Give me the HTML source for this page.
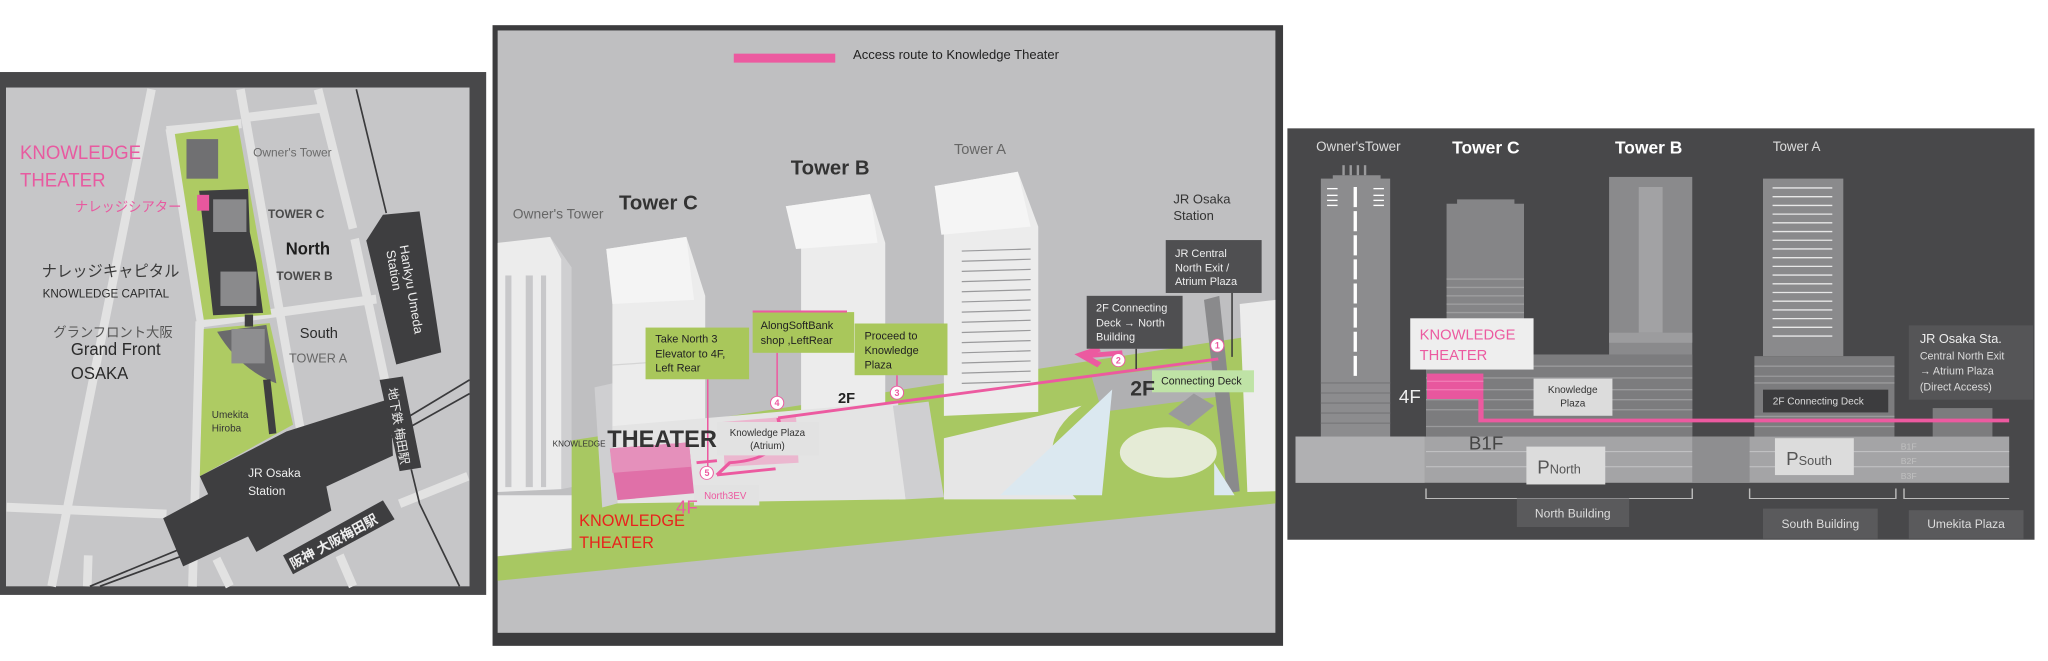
<!DOCTYPE html>
<html><head><meta charset="utf-8"><style>
html,body{margin:0;padding:0;background:#fff;width:2048px;height:661px;overflow:hidden}
svg{display:block}
text{font-family:"Liberation Sans","Noto Sans CJK JP",sans-serif}
</style></head><body>
<svg width="2048" height="661" viewBox="0 0 2048 661" xmlns="http://www.w3.org/2000/svg">
<!-- LEFT PANEL -->
<g transform="translate(0,60) scale(0.333,0.344)">
<rect x="0" y="35" width="1460" height="1520" fill="#48484a"/>
<rect x="18" y="80" width="1392" height="1450" fill="#c6c6c8"/>
<g stroke="#e2e2e2" stroke-width="26" fill="none">
<line x1="455" y1="85" x2="155" y2="1530"/>
<line x1="600" y1="760" x2="578" y2="1530"/>
<line x1="510" y1="200" x2="605" y2="770"/>
<line x1="722" y1="85" x2="905" y2="1090"/>
<line x1="500" y1="205" x2="725" y2="185"/>
<line x1="730" y1="168" x2="965" y2="140"/>
<line x1="955" y1="85" x2="1060" y2="490"/>
<line x1="1065" y1="520" x2="1160" y2="950"/>
<line x1="600" y1="765" x2="1130" y2="695"/>
<line x1="262" y1="1530" x2="265" y2="1440"/>
<line x1="650" y1="1450" x2="690" y2="1530"/>
<line x1="1020" y1="1440" x2="1060" y2="1530"/>
<line x1="1200" y1="1290" x2="1405" y2="1210"/>
<line x1="20" y1="1300" x2="500" y2="1320"/>
</g>
<g stroke="#3a3a3c" stroke-width="5" fill="none">
<line x1="270" y1="1530" x2="570" y2="1410"/>
<line x1="300" y1="1530" x2="580" y2="1430"/>
<line x1="1170" y1="1070" x2="1410" y2="930"/>
<line x1="1170" y1="1100" x2="1410" y2="970"/>
<line x1="1070" y1="85" x2="1160" y2="445"/>
<polyline points="1235,1190 1260,1290 1380,1530"/>
</g>
<polygon points="525,215 715,190 815,740 612,755" fill="#aecb63"/>
<polygon points="612,782 810,765 880,1060 600,1210" fill="#aecb63"/>
<rect x="560" y="230" width="95" height="115" fill="#707072"/>
<polygon points="598,380 745,375 750,500 770,590 790,735 640,742" fill="#3e3e40"/>
<rect x="640" y="405" width="100" height="95" fill="#8a8a8c"/>
<rect x="662" y="615" width="108" height="100" fill="#8a8a8c"/>
<rect x="592" y="392" width="36" height="46" fill="#e8579e"/>
<rect x="735" y="740" width="25" height="35" fill="#3e3e40"/>
<path d="M652,790 L800,770 L830,940 Q720,900 652,790 Z" fill="#6a6a6c"/>
<rect x="695" y="782" width="100" height="100" fill="#8e8e90"/>
<polygon points="790,930 812,928 830,1085 808,1088" fill="#3e3e40"/>
<polygon points="600,1210 860,1080 1170,985 1180,1150 980,1240 995,1310 770,1430 745,1385 550,1472 490,1332 625,1262" fill="#3e3e40"/>
<polygon points="1100,525 1150,450 1260,440 1325,850 1190,885" fill="#3e3e40"/>
<polygon points="1140,930 1210,920 1265,1185 1200,1195" fill="#3e3e40"/>
<polygon points="850,1440 1150,1280 1185,1335 880,1495" fill="#3e3e40"/>
<text x="60" y="288" font-size="56" fill="#e85aa0">KNOWLEDGE</text>
<text x="60" y="368" font-size="56" fill="#e85aa0">THEATER</text>
<text x="225" y="440" font-size="40" fill="#e85aa0">ナレッジシアター</text>
<text x="760" y="280" font-size="36" fill="#6a6a6a">Owner's Tower</text>
<text x="805" y="460" font-size="36" fill="#4a4a4a" font-weight="bold">TOWER C</text>
<text x="858" y="566" font-size="50" fill="#1e1e1e" font-weight="bold">North</text>
<text x="830" y="640" font-size="36" fill="#4a4a4a" font-weight="bold">TOWER B</text>
<text x="125" y="630" font-size="46" fill="#3a3a3a">ナレッジキャピタル</text>
<text x="128" y="690" font-size="35" fill="#2a2a2a">KNOWLEDGE CAPITAL</text>
<text x="160" y="805" font-size="40" fill="#555">グランフロント大阪</text>
<text x="213" y="858" font-size="50" fill="#2a2a2a">Grand Front</text>
<text x="213" y="928" font-size="50" fill="#2a2a2a">OSAKA</text>
<text x="900" y="808" font-size="44" fill="#2a2a2a">South</text>
<text x="868" y="880" font-size="38" fill="#666">TOWER A</text>
<text x="636" y="1040" font-size="30" fill="#333">Umekita</text>
<text x="636" y="1080" font-size="30" fill="#333">Hiroba</text>
<text x="745" y="1212" font-size="36" fill="#eee">JR Osaka</text>
<text x="745" y="1265" font-size="36" fill="#eee">Station</text>
<text transform="translate(1200,540) rotate(80)" font-size="38" fill="#eee">Hankyu Umeda</text>
<text transform="translate(1160,555) rotate(80)" font-size="38" fill="#eee">Station</text>
<text transform="translate(1165,955) rotate(80)" font-size="36" fill="#eee">地下鉄 梅田駅</text>
<text transform="translate(880,1480) rotate(-28)" font-size="40" fill="#eee" font-weight="bold">阪神 大阪梅田駅</text>
</g>

<!-- MIDDLE PANEL shapes -->
<g transform="translate(490,15) scale(0.51,0.407)">
<rect x="5" y="25" width="1550" height="1525" fill="#3c3c3e"/>
<rect x="15" y="38" width="1525" height="1480" fill="#bfbfc1"/>
<polygon points="160,1045 1540,780 1540,1200 160,1320" fill="#a8c862"/>
<polygon points="15,1330 1540,1170 1540,1200 15,1390" fill="#a8c862"/>
<polygon points="15,1330 160,1310 160,1180 15,1180" fill="#ececec"/>
<polygon points="15,560 118,545 140,600 140,1165 15,1172" fill="#ececec"/>
<polygon points="118,545 140,600 140,1165 160,1160 160,620" fill="#cfcfd1"/>
<g fill="#c8c8ca"><rect x="70" y="640" width="14" height="520"/><rect x="100" y="640" width="10" height="520"/><rect x="30" y="640" width="12" height="520"/></g>
<polygon points="205,915 240,905 250,1200 220,1210" fill="#cfcfd1"/>
<polygon points="228,575 385,545 422,690 422,1050 240,1050 240,700" fill="#ececec"/>
<polygon points="228,575 385,545 400,700 240,710" fill="#f4f4f4"/>
<line x1="240" y1="860" x2="420" y2="845" stroke="#d5d5d5" stroke-width="3"/>
<polygon points="580,470 745,440 775,560 775,1005 610,1015 610,570" fill="#ececec"/>
<polygon points="580,470 745,440 760,560 600,575" fill="#f5f5f5"/>
<polygon points="240,1010 800,950 815,1190 250,1200" fill="#e4e4e4"/>
<polygon points="790,960 860,950 890,1185 815,1190" fill="#cfcfd1"/>
<polygon points="872,420 1035,385 1075,520 1075,975 890,985 890,540" fill="#ececec"/>
<polygon points="872,420 1035,385 1060,520 885,540" fill="#f5f5f5"/>
<g stroke="#9a9a9c" stroke-width="3">
<line x1="925" y1="580" x2="1060" y2="575"/><line x1="925" y1="605" x2="1060" y2="600"/><line x1="925" y1="630" x2="1060" y2="625"/><line x1="925" y1="655" x2="1060" y2="650"/><line x1="925" y1="680" x2="1060" y2="675"/><line x1="925" y1="705" x2="1060" y2="700"/><line x1="925" y1="730" x2="1060" y2="725"/><line x1="925" y1="755" x2="1060" y2="750"/><line x1="925" y1="780" x2="1060" y2="775"/><line x1="925" y1="805" x2="1060" y2="800"/><line x1="925" y1="830" x2="1060" y2="825"/><line x1="925" y1="855" x2="1060" y2="850"/><line x1="925" y1="880" x2="1060" y2="875"/><line x1="925" y1="905" x2="1060" y2="900"/>
</g>
<path d="M890,1040 L1160,960 Q1050,1060 1150,1190 L890,1190 Z" fill="#e6e6e6"/>
<polygon points="1180,890 1440,850 1445,935 1200,975" fill="#b0b0b2"/>
<polygon points="1400,700 1430,690 1470,1170 1445,1175" fill="#8a8a8c"/>
<polygon points="1470,710 1540,700 1540,1170 1485,1172" fill="#ececec"/>
<polygon points="1220,920 1000,1180 1200,1180" fill="#dbe8f0"/>
<polygon points="1420,1100 1460,1180 1420,1180" fill="#dbe8f0"/>
<ellipse cx="1330" cy="1075" rx="95" ry="62" fill="#e5ebd6"/>
<polygon points="1330,980 1380,930 1420,960 1370,1010" fill="#9a9a9c"/>
<polygon points="455,1000 600,985 605,1100 460,1110" fill="#ebb7cf"/>
<polygon points="235,1065 390,1050 400,1175 250,1192" fill="#e070a8"/>
<polygon points="235,1065 390,1050 395,1110 240,1125" fill="#e590bb"/>
<g stroke="#ec5aa0" stroke-width="7" fill="none">
<line x1="1428" y1="845" x2="565" y2="990"/>
<path d="M565,990 Q585,1090 470,1100 L445,1130"/>
<line x1="445" y1="1130" x2="560" y2="1115"/>
<line x1="405" y1="1100" x2="445" y2="1095"/>
</g>
<path d="M1195,820 L1160,835 L1195,860" stroke="#ec5aa0" stroke-width="14" fill="none"/>
<line x1="1160" y1="838" x2="1240" y2="830" stroke="#ec5aa0" stroke-width="12"/>
<g stroke="#ec5aa0" stroke-width="3"><line x1="427" y1="895" x2="427" y2="1110"/><line x1="563" y1="830" x2="563" y2="950"/><line x1="798" y1="885" x2="798" y2="915"/></g>
<g stroke="#3a3a3a" stroke-width="3"><line x1="1267" y1="820" x2="1267" y2="870"/><line x1="1455" y1="683" x2="1455" y2="840"/></g>
<rect x="478" y="95" width="199" height="22" fill="#ec5aa0"/>
<rect x="305" y="768" width="203" height="127" fill="#a9c75b"/>
<rect x="515" y="730" width="199" height="100" fill="#a9c75b"/>
<rect x="515" y="726" width="185" height="5" fill="#ec5aa0"/>
<rect x="715" y="758" width="182" height="127" fill="#a9c75b"/>
<rect x="1325" y="553" width="188" height="130" fill="#4f4f51"/>
<rect x="1170" y="690" width="188" height="130" fill="#4f4f51"/>
<rect x="1298" y="873" width="200" height="54" fill="#bfe3a6"/>
<rect x="445" y="1000" width="200" height="82" fill="#e2e2e2"/>
<rect x="400" y="1155" width="128" height="50" fill="#e2e2e2"/>
<g fill="#fff" stroke="#ec5aa0" stroke-width="2">
<ellipse cx="1426" cy="812" rx="13" ry="16"/><ellipse cx="1232" cy="848" rx="13" ry="16"/><ellipse cx="798" cy="928" rx="13" ry="16"/><ellipse cx="563" cy="953" rx="13" ry="16"/><ellipse cx="425" cy="1125" rx="13" ry="16"/></g>
</g>
<!-- MIDDLE PANEL text (uniform scale) -->
<g transform="translate(490,15) scale(0.407)">
<text x="892" y="108" font-size="32" fill="#222">Access route to Knowledge Theater</text>
<text x="406" y="805" font-size="27" fill="#222">Take North 3</text>
<text x="406" y="842" font-size="27" fill="#222">Elevator to 4F,</text>
<text x="406" y="876" font-size="27" fill="#222">Left Rear</text>
<text x="665" y="772" font-size="27" fill="#222">AlongSoftBank</text>
<text x="665" y="808" font-size="27" fill="#222">shop ,LeftRear</text>
<text x="920" y="797" font-size="27" fill="#222">Proceed to</text>
<text x="920" y="833" font-size="27" fill="#222">Knowledge</text>
<text x="920" y="868" font-size="27" fill="#222">Plaza</text>
<text x="1683" y="594" font-size="27" fill="#eee">JR Central</text>
<text x="1683" y="630" font-size="27" fill="#eee">North Exit /</text>
<text x="1683" y="664" font-size="27" fill="#eee">Atrium Plaza</text>
<text x="1489" y="729" font-size="27" fill="#eee">2F Connecting</text>
<text x="1489" y="765" font-size="27" fill="#eee">Deck → North</text>
<text x="1489" y="800" font-size="27" fill="#eee">Building</text>
<text x="1649" y="908" font-size="26" fill="#222">Connecting Deck</text>
<text x="589" y="1035" font-size="24" fill="#333">Knowledge Plaza</text>
<text x="639" y="1066" font-size="24" fill="#333">(Atrium)</text>
<text x="526" y="1189" font-size="24" fill="#ec5aa0">North3EV</text>
<g fill="#ec5aa0" font-size="22" font-weight="bold" text-anchor="middle">
<text x="1787" y="820">1</text><text x="1544" y="856">2</text><text x="1000" y="936">3</text><text x="705" y="961">4</text><text x="533" y="1133">5</text></g>
<text x="56" y="500" font-size="34" fill="#666">Owner's Tower</text>
<text x="317" y="478" font-size="50" fill="#333" font-weight="bold">Tower C</text>
<text x="739" y="392" font-size="50" fill="#333" font-weight="bold">Tower B</text>
<text x="1140" y="342" font-size="36" fill="#666">Tower A</text>
<text x="1679" y="463" font-size="32" fill="#333">JR Osaka</text>
<text x="1679" y="504" font-size="32" fill="#333">Station</text>
<text x="855" y="953" font-size="36" fill="#222" font-weight="bold">2F</text>
<text x="1573" y="935" font-size="52" fill="#333" font-weight="bold">2F</text>
<text x="154" y="1060" font-size="20" fill="#333">KNOWLEDGE</text>
<text x="288" y="1062" font-size="58" fill="#333" font-weight="bold">THEATER</text>
<text x="457" y="1225" font-size="46" fill="#ec5aa0">4F</text>
<text x="219" y="1255" font-size="40" fill="#e8231c">KNOWLEDGE</text>
<text x="219" y="1310" font-size="40" fill="#e8231c">THEATER</text>
</g>

<!-- RIGHT PANEL shapes -->
<g transform="translate(1285,125) scale(0.478,0.335)">
<rect x="5" y="10" width="1563" height="1228" fill="#48484a"/>
<rect x="75" y="160" width="145" height="770" fill="#8c8c8e"/>
<rect x="100" y="150" width="100" height="15" fill="#8c8c8e"/>
<g fill="#9a9a9c"><rect x="120" y="120" width="5" height="30"/><rect x="135" y="120" width="5" height="30"/><rect x="150" y="120" width="5" height="30"/><rect x="165" y="120" width="5" height="30"/></g>
<line x1="147" y1="185" x2="147" y2="750" stroke="#fff" stroke-width="7" stroke-dasharray="60,12"/>
<g stroke="#fff" stroke-width="4"><line x1="88" y1="190" x2="110" y2="190"/><line x1="88" y1="210" x2="110" y2="210"/><line x1="88" y1="225" x2="110" y2="225"/><line x1="88" y1="240" x2="110" y2="240"/><line x1="185" y1="190" x2="207" y2="190"/><line x1="185" y1="210" x2="207" y2="210"/><line x1="185" y1="225" x2="207" y2="225"/><line x1="185" y1="240" x2="207" y2="240"/></g>
<g stroke="#7a7a7c" stroke-width="4"><line x1="75" y1="770" x2="220" y2="770"/><line x1="75" y1="800" x2="220" y2="800"/><line x1="75" y1="830" x2="220" y2="830"/><line x1="75" y1="860" x2="220" y2="860"/><line x1="75" y1="890" x2="220" y2="890"/></g>
<rect x="338" y="235" width="162" height="695" fill="#858587"/>
<rect x="360" y="222" width="120" height="15" fill="#858587"/>
<g stroke="#9e9e9f" stroke-width="4"><line x1="338" y1="460" x2="500" y2="460"/><line x1="338" y1="485" x2="500" y2="485"/><line x1="338" y1="510" x2="500" y2="510"/><line x1="338" y1="535" x2="500" y2="535"/><line x1="338" y1="560" x2="500" y2="560"/></g>
<rect x="678" y="155" width="174" height="775" fill="#8a8a8c"/>
<rect x="740" y="185" width="50" height="435" fill="#a2a2a4"/>
<rect x="678" y="620" width="174" height="30" fill="#9c9c9e"/>
<rect x="295" y="685" width="557" height="245" fill="#7c7c7e"/>
<g stroke="#9a9a9c" stroke-width="4">
<line x1="295" y1="720" x2="852" y2="720"/><line x1="295" y1="755" x2="852" y2="755"/><line x1="295" y1="790" x2="852" y2="790"/><line x1="295" y1="820" x2="852" y2="820"/><line x1="295" y1="850" x2="852" y2="850"/><line x1="295" y1="900" x2="852" y2="900"/></g>
<rect x="1000" y="160" width="168" height="530" fill="#8a8a8c"/>
<g stroke="#e8e8e8" stroke-width="4">
<line x1="1020" y1="188" x2="1145" y2="188"/><line x1="1020" y1="214" x2="1145" y2="214"/><line x1="1020" y1="240" x2="1145" y2="240"/><line x1="1020" y1="266" x2="1145" y2="266"/><line x1="1020" y1="292" x2="1145" y2="292"/><line x1="1020" y1="318" x2="1145" y2="318"/><line x1="1020" y1="344" x2="1145" y2="344"/><line x1="1020" y1="370" x2="1145" y2="370"/><line x1="1020" y1="396" x2="1145" y2="396"/><line x1="1020" y1="422" x2="1145" y2="422"/><line x1="1020" y1="448" x2="1145" y2="448"/><line x1="1020" y1="474" x2="1145" y2="474"/><line x1="1020" y1="500" x2="1145" y2="500"/><line x1="1020" y1="526" x2="1145" y2="526"/><line x1="1020" y1="552" x2="1145" y2="552"/><line x1="1020" y1="578" x2="1145" y2="578"/><line x1="1020" y1="604" x2="1145" y2="604"/><line x1="1020" y1="630" x2="1145" y2="630"/></g>
<rect x="982" y="690" width="293" height="240" fill="#7c7c7e"/>
<g stroke="#9a9a9c" stroke-width="4"><line x1="982" y1="720" x2="1275" y2="720"/><line x1="982" y1="750" x2="1275" y2="750"/><line x1="982" y1="770" x2="1275" y2="770"/><line x1="982" y1="870" x2="1275" y2="870"/><line x1="982" y1="900" x2="1275" y2="900"/></g>
<rect x="1355" y="845" width="125" height="85" fill="#7c7c7e"/>
<rect x="22" y="930" width="1493" height="138" fill="#a4a4a6"/>
<rect x="22" y="930" width="270" height="138" fill="#b0b0b2"/>
<rect x="852" y="930" width="120" height="138" fill="#8e8e90"/>
<g stroke="#c4c4c6" stroke-width="3"><line x1="295" y1="975" x2="852" y2="975"/><line x1="295" y1="1020" x2="852" y2="1020"/><line x1="972" y1="975" x2="1515" y2="975"/><line x1="972" y1="1020" x2="1515" y2="1020"/></g>
<rect x="297" y="742" width="118" height="76" fill="#e8579e"/>
<g stroke="#f07ab4" stroke-width="4"><line x1="297" y1="765" x2="415" y2="765"/><line x1="297" y1="790" x2="415" y2="790"/></g>
<polyline points="410,818 410,882 1515,882" stroke="#ec5aa0" stroke-width="11" fill="none"/>
<rect x="262" y="577" width="258" height="153" fill="#eeeeee"/>
<rect x="520" y="757" width="165" height="111" fill="#dcdcdc"/>
<rect x="505" y="960" width="165" height="113" fill="#dcdcdc"/>
<rect x="1025" y="935" width="165" height="110" fill="#dcdcdc"/>
<rect x="1000" y="790" width="262" height="68" fill="#3c3c3e"/>
<rect x="1305" y="598" width="260" height="222" fill="#555557"/>
<g stroke="#bbb" stroke-width="3" fill="none"><polyline points="295,1085 295,1115 852,1115 852,1085"/><polyline points="972,1085 972,1115 1278,1115 1278,1085"/><polyline points="1295,1085 1295,1115 1515,1115"/></g>
<rect x="485" y="1115" width="235" height="85" fill="#5a5a5c"/>
<rect x="1000" y="1145" width="240" height="90" fill="#5a5a5c"/>
<rect x="1305" y="1150" width="240" height="85" fill="#5a5a5c"/>
</g>
<!-- RIGHT PANEL text -->
<g transform="translate(1285,125) scale(0.335)">
<text x="402" y="640" font-size="44" fill="#ec5aa0">KNOWLEDGE</text>
<text x="402" y="702" font-size="44" fill="#ec5aa0">THEATER</text>
<text x="859" y="800" font-size="30" fill="#333" text-anchor="middle">Knowledge</text>
<text x="859" y="840" font-size="30" fill="#333" text-anchor="middle">Plaza</text>
<text x="753" y="1040" font-size="56" fill="#555">P<tspan font-size="38">North</tspan></text>
<text x="1496" y="1015" font-size="56" fill="#555">P<tspan font-size="38">South</tspan></text>
<text x="1456" y="835" font-size="30" fill="#ddd">2F Connecting Deck</text>
<text x="1895" y="650" font-size="38" fill="#eee">JR Osaka Sta.</text>
<text x="1895" y="700" font-size="32" fill="#ddd">Central North Exit</text>
<text x="1895" y="745" font-size="32" fill="#ddd">→ Atrium Plaza</text>
<text x="1895" y="792" font-size="32" fill="#ddd">(Direct Access)</text>
<text x="859" y="1172" font-size="36" fill="#ddd" text-anchor="middle">North Building</text>
<text x="1598" y="1203" font-size="36" fill="#ddd" text-anchor="middle">South Building</text>
<text x="2033" y="1203" font-size="36" fill="#ddd" text-anchor="middle">Umekita Plaza</text>
<text x="93" y="78" font-size="40" fill="#ddd">Owner'sTower</text>
<text x="499" y="85" font-size="52" fill="#fff" font-weight="bold">Tower C</text>
<text x="985" y="85" font-size="52" fill="#fff" font-weight="bold">Tower B</text>
<text x="1456" y="78" font-size="40" fill="#ddd">Tower A</text>
<text x="340" y="830" font-size="56" fill="#eee">4F</text>
<text x="549" y="968" font-size="56" fill="#444">B1F</text>
<g font-size="26" fill="#c0c0c0"><text x="1838" y="968">B1F</text><text x="1838" y="1012">B2F</text><text x="1838" y="1057">B3F</text></g>
</g>
</svg>
</body></html>
